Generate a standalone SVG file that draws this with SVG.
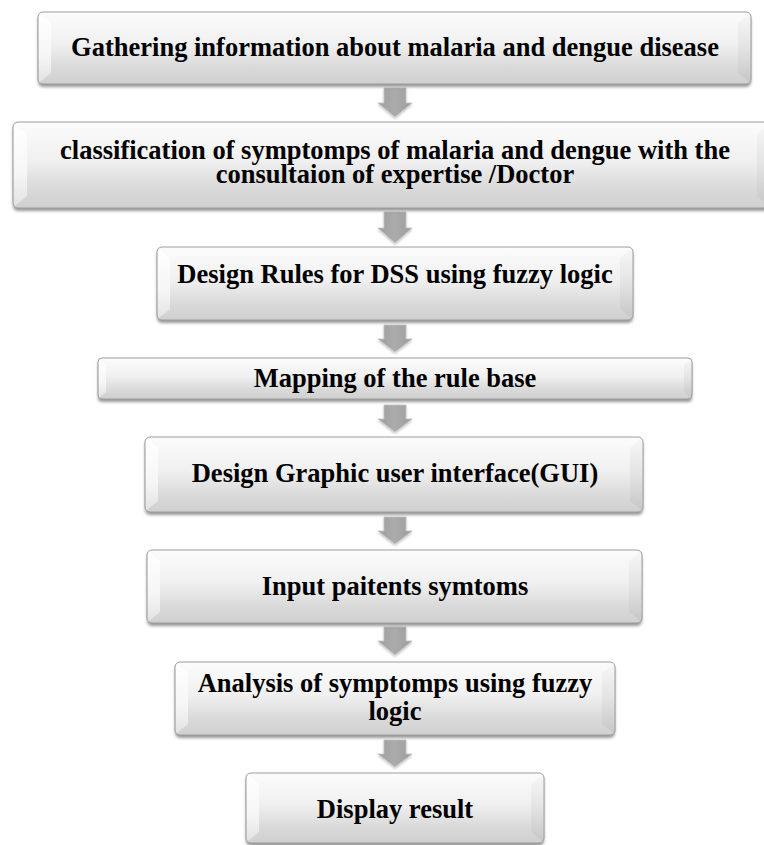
<svg xmlns="http://www.w3.org/2000/svg" width="764" height="845" viewBox="0 0 764 845">
<defs>
<linearGradient id="boxFill" x1="0" y1="0" x2="0" y2="1">
<stop offset="0" stop-color="#fcfcfc"/>
<stop offset="0.45" stop-color="#f0f0f0"/>
<stop offset="0.78" stop-color="#d9d9d9"/>
<stop offset="1" stop-color="#d0d0d0"/>
</linearGradient>
<linearGradient id="bevL" x1="0" y1="0" x2="0" y2="1">
<stop offset="0" stop-color="#ffffff"/>
<stop offset="0.6" stop-color="#f6f6f6"/>
<stop offset="1" stop-color="#e2e2e2"/>
</linearGradient>
<linearGradient id="bevR" x1="0" y1="0" x2="0" y2="1">
<stop offset="0" stop-color="#f7f7f7"/>
<stop offset="0.5" stop-color="#e3e3e3"/>
<stop offset="1" stop-color="#c6c6c6"/>
</linearGradient>
<linearGradient id="arrFill" x1="0" y1="0" x2="1" y2="0">
<stop offset="0" stop-color="#a0a0a0"/>
<stop offset="0.5" stop-color="#ababab"/>
<stop offset="1" stop-color="#9c9c9c"/>
</linearGradient>
<filter id="shadow" x="-5%" y="-20%" width="110%" height="150%">
<feDropShadow dx="0" dy="3" stdDeviation="1.6" flood-color="#000" flood-opacity="0.4"/>
</filter>
<filter id="ashadow" x="-20%" y="-20%" width="140%" height="150%">
<feDropShadow dx="0" dy="1.5" stdDeviation="1" flood-color="#000" flood-opacity="0.25"/>
</filter>
</defs>
<style>
.box{fill:url(#boxFill);filter:url(#shadow);}
.edge{fill:none;stroke:#9c9c9c;stroke-width:1;}
.bl{fill:url(#bevL);}
.br{fill:url(#bevR);}
.t{font-family:"Liberation Serif","Times New Roman",serif;font-weight:bold;font-size:26.5px;fill:#000;text-anchor:middle;}
.arr{fill:url(#arrFill);stroke:#c4c4c4;stroke-width:0.8;filter:url(#ashadow);}
</style>

<g id="connectors">
<path class="arr" d="M384,88 H406 V103 H412 L395,117 L378,103 H384 Z"/>
<path class="arr" d="M384,212 H406 V228 H412 L395,243 L378,228 H384 Z"/>
<path class="arr" d="M384,325 H406 V339 H412 L395,352 L378,339 H384 Z"/>
<path class="arr" d="M384,405 H406 V419 H412 L395,432 L378,419 H384 Z"/>
<path class="arr" d="M384,517 H406 V531 H412 L395,544 L378,531 H384 Z"/>
<path class="arr" d="M384,627 H406 V641 H412 L395,655 L378,641 H384 Z"/>
<path class="arr" d="M384,740 H406 V754 H412 L395,767 L378,754 H384 Z"/>
</g>

<g id="node1">
<rect class="box" x="38" y="12" width="713" height="72" rx="5"/>
<polygon class="bl" points="38.5,13 51,23 51,73 38.5,83"/>
<polygon class="br" points="750.5,13 738,23 738,73 750.5,83"/>
<rect class="edge" x="38" y="12" width="713" height="72" rx="5"/>
<text class="t" x="395" y="55.5">Gathering information about malaria and dengue disease</text>
</g>

<g id="node2">
<rect class="box" x="13" y="122" width="758" height="86" rx="5"/>
<polygon class="bl" points="13.5,123 27,134 27,196 13.5,207"/>
<polygon class="br" points="770.5,123 757,134 757,196 770.5,207"/>
<rect class="edge" x="13" y="122" width="758" height="86" rx="5"/>
<text class="t" x="395" y="159">classification of symptomps of malaria and dengue with the</text>
<text class="t" x="395" y="183">consultaion of expertise /Doctor</text>
</g>

<g id="node3">
<rect class="box" x="157" y="247" width="476" height="73" rx="5"/>
<polygon class="bl" points="157.5,248 170,258 170,309 157.5,319"/>
<polygon class="br" points="632.5,248 620,258 620,309 632.5,319"/>
<rect class="edge" x="157" y="247" width="476" height="73" rx="5"/>
<text class="t" x="395" y="283">Design Rules for DSS using fuzzy logic</text>
</g>

<g id="node4">
<rect class="box" x="98" y="358" width="594" height="41" rx="4"/>
<polygon class="bl" points="98.5,359 106,365 106,392 98.5,398"/>
<polygon class="br" points="691.5,359 684,365 684,392 691.5,398"/>
<rect class="edge" x="98" y="358" width="594" height="41" rx="4"/>
<text class="t" x="395" y="387">Mapping of the rule base</text>
</g>

<g id="node5">
<rect class="box" x="145" y="437" width="498" height="75" rx="5"/>
<polygon class="bl" points="145.5,438 158,448 158,501 145.5,511"/>
<polygon class="br" points="642.5,438 630,448 630,501 642.5,511"/>
<rect class="edge" x="145" y="437" width="498" height="75" rx="5"/>
<text class="t" x="395" y="482">Design Graphic user interface(GUI)</text>
</g>

<g id="node6">
<rect class="box" x="147" y="550" width="495" height="73" rx="5"/>
<polygon class="bl" points="147.5,551 160,561 160,612 147.5,622"/>
<polygon class="br" points="641.5,551 629,561 629,612 641.5,622"/>
<rect class="edge" x="147" y="550" width="495" height="73" rx="5"/>
<text class="t" x="395" y="595">Input paitents symtoms</text>
</g>

<g id="node7">
<rect class="box" x="175" y="662" width="440" height="73" rx="5"/>
<polygon class="bl" points="175.5,663 188,673 188,724 175.5,734"/>
<polygon class="br" points="614.5,663 602,673 602,724 614.5,734"/>
<rect class="edge" x="175" y="662" width="440" height="73" rx="5"/>
<text class="t" x="395" y="692">Analysis of symptomps using fuzzy</text>
<text class="t" x="395" y="720">logic</text>
</g>

<g id="node8">
<rect class="box" x="246" y="773" width="298" height="70" rx="5"/>
<polygon class="bl" points="246.5,774 259,784 259,832 246.5,842"/>
<polygon class="br" points="543.5,774 531,784 531,832 543.5,842"/>
<rect class="edge" x="246" y="773" width="298" height="70" rx="5"/>
<text class="t" x="395" y="818">Display result</text>
</g>
</svg>
